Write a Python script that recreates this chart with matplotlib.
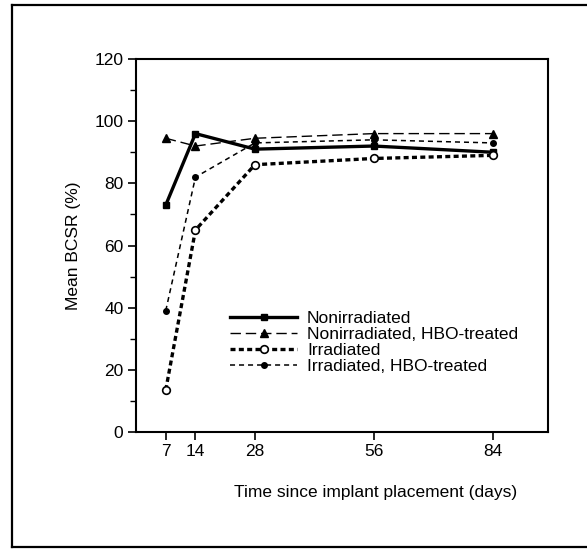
import matplotlib
matplotlib.use("Agg")
import matplotlib.pyplot as plt
from matplotlib.lines import Line2D

days = [7, 14, 28, 56, 84]
nonirr = [73, 96, 91, 92, 90]
nonirr_hbo = [94.5, 92, 94.5, 96, 96]
irr = [13.5, 65, 86, 88, 89]
irr_hbo = [39, 82, 93, 94, 93]
labels = ["Nonirradiated", "Nonirradiated, HBO-treated", "Irradiated", "Irradiated, HBO-treated"]
xticks = [7, 14, 28, 56, 84]
yticks = [0, 20, 40, 60, 80, 100, 120]

plt.rcParams['font.family'] = ['Liberation Sans', 'DejaVu Sans']

W, H = 587, 549
FS = 12.5
fig = plt.figure(figsize=(W / 100, H / 100), dpi=100)
ax = fig.add_axes([136 / W, (H - 432) / H, (548 - 136) / W, (432 - 59) / H])

ax.plot(days, nonirr, color='black', lw=2.4, marker='s', ms=4.6, mfc='black', label=labels[0])
ax.plot(days, nonirr_hbo, color='black', lw=1.0, ls=(0, (7.5, 3.5)), marker='^', ms=5.5, mfc='black', label=labels[1])
ax.plot(days, irr, color='black', lw=2.4, ls=(0, (1.5, 1.0)), marker='o', ms=5.5, mfc='white', mew=1.2, label=labels[2])
ax.plot(days, irr_hbo, color='black', lw=1.1, ls=(0, (3.3, 2.6)), marker='o', ms=4, mfc='black', label=labels[3])

ax.set_xlim(0, 97)
ax.set_ylim(0, 120)
ax.set_xticks(xticks)
ax.set_yticks(yticks)
ax.set_yticks(range(10, 120, 20), minor=True)
ax.tick_params(axis='both', which='major', direction='out', length=6, width=1.2, labelsize=FS, pad=3)
ax.tick_params(axis='y', which='minor', direction='out', length=4, width=1.0)
for s in ['left', 'bottom', 'top', 'right']:
    ax.spines[s].set_linewidth(1.5)

ax.set_ylabel("Mean BCSR (%)", fontsize=FS, labelpad=10)
fig.text(517 / W, (H - 493) / H, "Time since implant placement (days)", fontsize=FS,
         ha='right', va='center')

leg = ax.legend(loc='upper left', bbox_to_anchor=(0.229, 0.324), frameon=False, fontsize=FS,
                handlelength=3.85, handletextpad=0.57, labelspacing=0.05, borderpad=0,
                borderaxespad=0)

# outer frame: left, top and bottom edges (right edge lies beyond the image)
fx0, fy_top, fy_bot = 12 / W, 1 - 5 / H, 1 - 547 / H
for xs, ys in [([fx0, fx0], [fy_bot, fy_top]), ([fx0, 1.01], [fy_top, fy_top]), ([fx0, 1.01], [fy_bot, fy_bot])]:
    fig.add_artist(Line2D(xs, ys, transform=fig.transFigure, color='black', lw=1.6))

fig.savefig("out.png", dpi=100)
